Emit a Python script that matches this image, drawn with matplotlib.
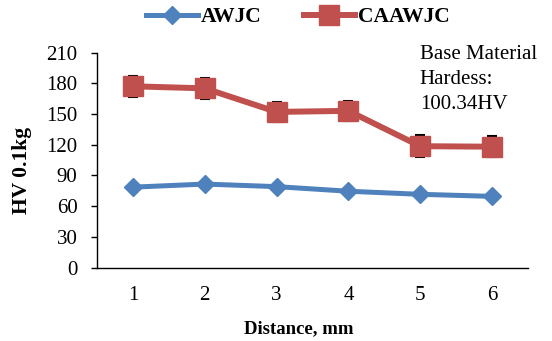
import numpy as np
import matplotlib
matplotlib.use('Agg')
import matplotlib.pyplot as plt

plt.rcParams['font.family'] = ['Liberation Serif', 'DejaVu Serif']

distance = [1, 2, 3, 4, 5, 6]
awjc = [78.5, 81.5, 79, 74.5, 71.5, 69.5]
caawjc = [177, 175, 152, 153, 118.5, 118]
caawjc_err = [10, 10, 10, 10, 10.5, 10.5]

blue = '#4F81BD'
red = '#C0504D'

fig = plt.figure(figsize=(5.52, 3.41), dpi=100)
ax = fig.add_axes([0.1757, 0.2155, 0.7808, 0.6305])

ax.errorbar(distance, caawjc, yerr=caawjc_err, fmt='none', ecolor='black',
            elinewidth=1.2, capsize=3.3, capthick=1.5, zorder=2)
ax.plot(distance, awjc, color=blue, lw=3.6, marker='D', ms=9.5,
        label='AWJC', zorder=3)
ax.plot(distance, caawjc, color=red, lw=4.3, marker='s', ms=14,
        label='CAAWJC', zorder=3)

ax.set_xlim(0.5, 6.5)
ax.set_ylim(0, 210)
ax.set_yticks(np.arange(0, 211, 30))
ax.set_xticks(distance)
ax.tick_params(axis='y', length=4, width=1, direction='out', labelsize=15, pad=10)
ax.tick_params(axis='x', length=0, labelsize=15, pad=13)
for s in ['top', 'right']:
    ax.spines[s].set_visible(False)
for s in ['left', 'bottom']:
    ax.spines[s].set_linewidth(1)

# axis titles placed where the original puts them
ax.set_ylabel('HV 0.1kg', fontsize=15.5, fontweight='bold')
ax.yaxis.set_label_coords(32 / 552, 0.5, transform=fig.transFigure)
ax.set_xlabel('Distance, mm', fontsize=13.5, fontweight='bold')
ax.xaxis.set_label_coords(298.5 / 552, 1 - 333 / 341, transform=fig.transFigure)
ax.xaxis.label.set_va('baseline')

ax.text(0.749, 1.035, 'Base Material\nHardess:\n100.34HV', transform=ax.transAxes,
        fontsize=15, va='top', ha='left', linespacing=1.42)

leg = fig.legend(loc='center', bbox_to_anchor=(0.54, 1 - 17 / 341), ncol=2,
                 frameon=False, prop={'size': 15.5, 'weight': 'bold'},
                 handlelength=2.4, columnspacing=1.95, handletextpad=0.14)

fig.savefig('out.png', dpi=100)
